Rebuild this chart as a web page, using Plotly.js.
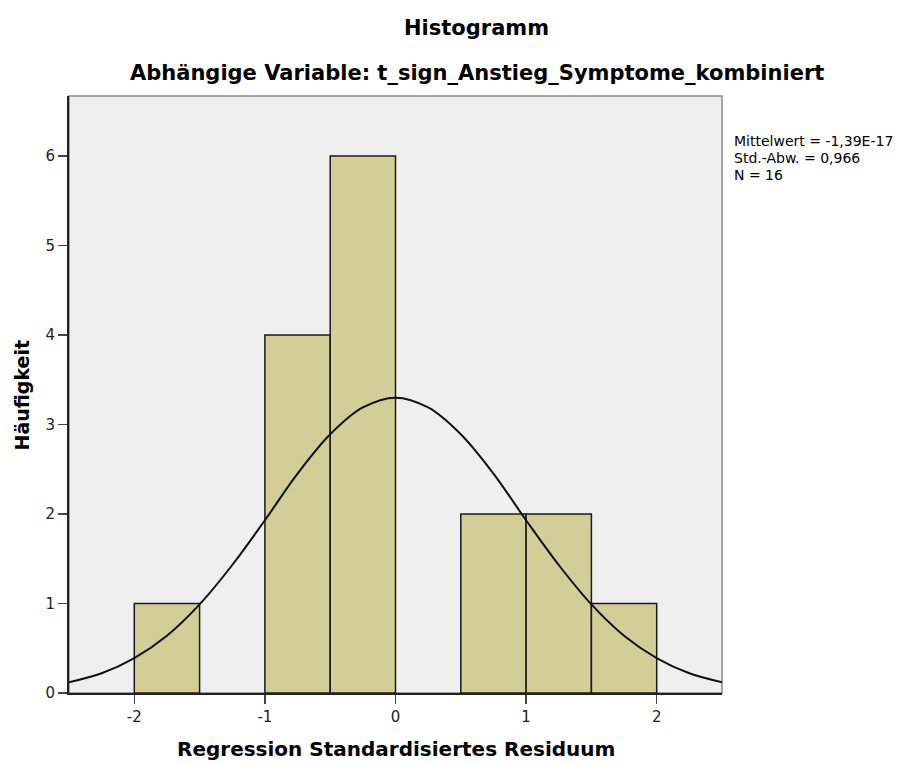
<!DOCTYPE html>
<html>
<head>
<meta charset="utf-8">
<script src="https://cdn.plot.ly/plotly-3.0.1.min.js"></script>
<style>html,body{margin:0;padding:0;background:#fff;}#chart{width:898px;height:764px;}</style>
</head>
<body>
<div id="chart"></div>
<script>
// Histogram bins (left edge of each 0.5-wide bin) and counts
var binLeft = [-2.0, -1.0, -0.5, 0.5, 1.0, 1.5];
var binCount = [1, 4, 6, 2, 2, 1];
var binWidth = 0.5;

// Normal curve
var curveX = [-2.5, -2.25, -2.0, -1.75, -1.5, -1.25, -1.0, -0.75, -0.5, -0.25, 0.0, 0.25, 0.5, 0.75, 1.0, 1.25, 1.5, 1.75, 2.0, 2.25, 2.5];
var curveY = [0.12, 0.22, 0.39, 0.64, 0.99, 1.43, 1.93, 2.45, 2.89, 3.19, 3.30, 3.19, 2.89, 2.45, 1.93, 1.43, 0.99, 0.64, 0.39, 0.22, 0.12];

var xTicks = [-2, -1, 0, 1, 2];
var yTicks = [0, 1, 2, 3, 4, 5, 6];

var titleText = "Histogramm";
var subtitleText = "Abhängige Variable: t_sign_Anstieg_Symptome_kombiniert";
var xTitle = "Regression Standardisiertes Residuum";
var yTitle = "Häufigkeit";
var statsLines = ["Mittelwert = -1,39E-17", "Std.-Abw. = 0,966", "N = 16"];

var FONT = "DejaVu Sans, Arial, sans-serif";

var traces = [
  {
    type: "bar",
    x: binLeft,
    y: binCount,
    width: binLeft.map(function(){return binWidth;}),
    offset: 0,
    marker: {color: "#d3ce97", line: {color: "#1a1a1a", width: 1.5}},
    hoverinfo: "x+y",
    showlegend: false
  },
  {
    type: "scatter",
    mode: "lines",
    x: curveX,
    y: curveY,
    line: {color: "#111111", width: 2, shape: "spline", smoothing: 1},
    showlegend: false
  }
];

var annotations = [
  {text: "<b>" + titleText + "</b>", xref: "paper", yref: "paper", x: 0.6248, y: 1.1139, xanchor: "center", yanchor: "middle", showarrow: false, font: {family: FONT, size: 21, color: "#000"}},
  {text: "<b>" + subtitleText + "</b>", xref: "paper", yref: "paper", x: 0.6248, y: 1.0385, xanchor: "center", yanchor: "middle", showarrow: false, font: {family: FONT, size: 21, color: "#000"}},
  {text: "<b>" + xTitle + "</b>", xref: "paper", yref: "paper", x: 0.5, y: -0.093, xanchor: "center", yanchor: "middle", showarrow: false, font: {family: FONT, size: 20, color: "#000"}},
  {text: "<b>" + yTitle + "</b>", xref: "paper", yref: "paper", x: -0.072, y: 0.5, xanchor: "center", yanchor: "middle", textangle: -90, showarrow: false, font: {family: FONT, size: 19, color: "#000"}}
];
var statsY = [0.9246, 0.8962, 0.8677];
statsLines.forEach(function(t, i){
  annotations.push({text: t, xref: "paper", yref: "paper", x: 1.0153, y: statsY[i], xanchor: "left", yanchor: "middle", showarrow: false, font: {family: FONT, size: 14, color: "#000"}});
});

var layout = {
  width: 898,
  height: 764,
  margin: {l: 69, r: 176, t: 96, b: 71, pad: 0},
  paper_bgcolor: "#ffffff",
  plot_bgcolor: "#efefef",
  bargap: 0,
  font: {family: FONT, size: 15, color: "#222"},
  xaxis: {
    range: [-2.5, 2.5],
    tickmode: "array",
    tickvals: xTicks,
    ticktext: xTicks.map(String),
    ticks: "outside",
    ticklen: 9,
    tickwidth: 1.5,
    tickcolor: "#444",
    showgrid: false,
    zeroline: false,
    showline: true,
    linecolor: "#222",
    linewidth: 2,
    tickfont: {family: FONT, size: 15, color: "#222"},
    fixedrange: true
  },
  yaxis: {
    range: [0, 6.67],
    tickmode: "array",
    tickvals: yTicks,
    ticktext: yTicks.map(String),
    ticks: "outside",
    ticklen: 9,
    tickwidth: 1.5,
    tickcolor: "#444",
    showgrid: false,
    zeroline: false,
    showline: true,
    linecolor: "#222",
    linewidth: 2,
    tickfont: {family: FONT, size: 15, color: "#222"},
    fixedrange: true
  },
  shapes: [
    {type: "rect", xref: "paper", yref: "paper", x0: 0, x1: 1, y0: 0, y1: 1, line: {color: "#888", width: 1.5}, layer: "below"}
  ],
  annotations: annotations
};

Plotly.newPlot("chart", traces, layout, {displayModeBar: false, staticPlot: true});
</script>
</body>
</html>
